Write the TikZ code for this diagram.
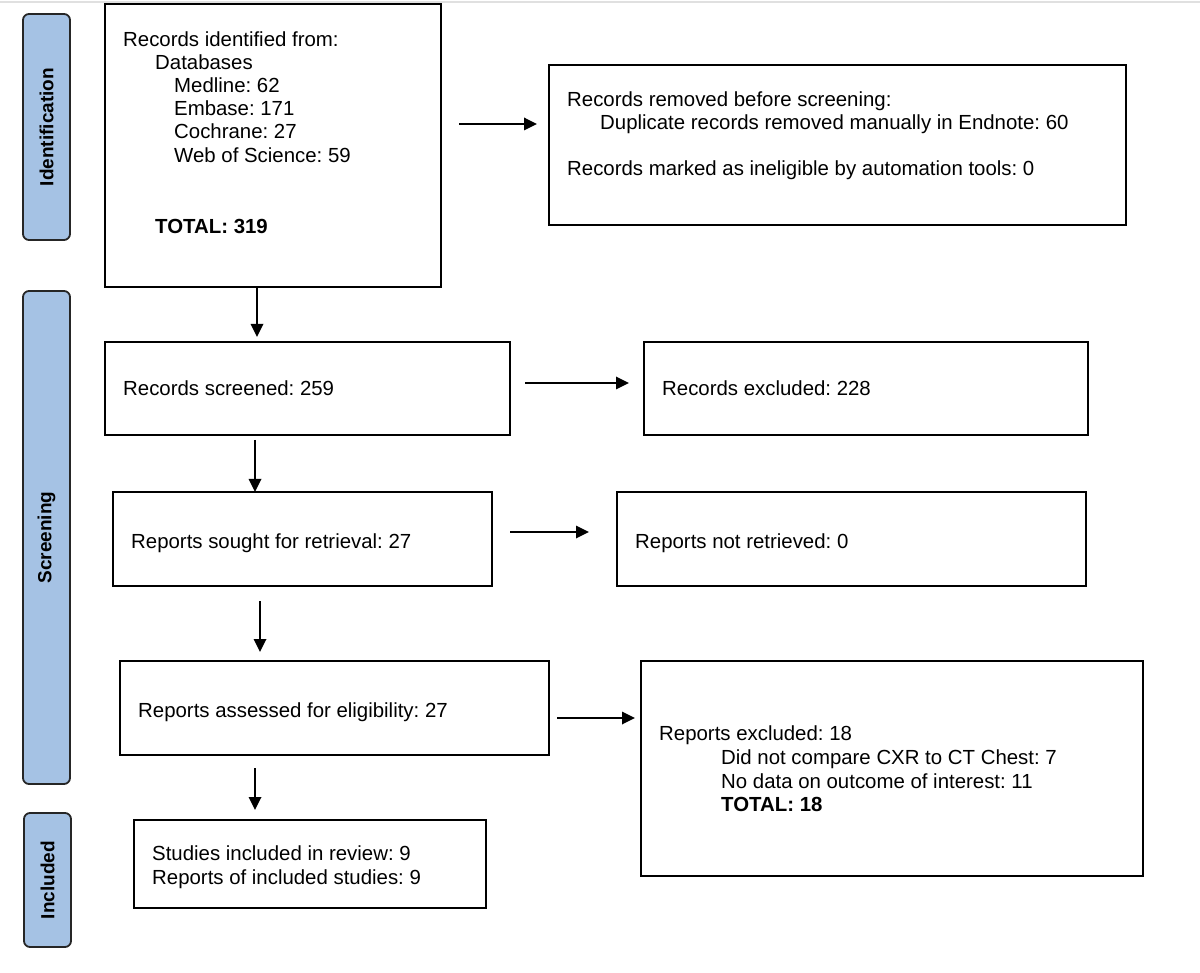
\documentclass[tikz,border=0pt]{standalone}
\usepackage{fontspec}
\setmainfont{Liberation Sans}
\usetikzlibrary{arrows.meta}
\definecolor{phase}{RGB}{165,194,228}
\frenchspacing
\begin{document}
\begin{tikzpicture}[x=1pt,y=-1pt,
  box/.style={draw=black,line width=1.8pt,inner sep=0pt,fill=white},
  phasebox/.style={draw=black!85,line width=1.8pt,rounded corners=6pt,fill=phase,inner sep=0pt},
  phasetext/.style={font=\fontsize{19}{22}\selectfont\bfseries,rotate=90,inner sep=0pt},
  txt/.style={anchor=base west,inner sep=0pt,font=\fontsize{20.4}{24}\selectfont},
  btxt/.style={txt,font=\fontsize{20.4}{24}\selectfont\bfseries},
  arr/.style={line width=1.8pt,-{Triangle[length=13pt,width=12.5pt]}}]
\useasboundingbox (0,0) rectangle (1200,973);
\draw[black!12,line width=1.2pt] (0,2) -- (1200,2);
% phase labels
\node[phasebox,minimum width=47pt,minimum height=226pt] (L1) at (46.5,127) {};
\node[phasetext] (L1t) at (L1.center) {Identification};
\node[phasebox,minimum width=47pt,minimum height=493pt] (L2) at (46.5,537.5) {};
\node[phasetext] (L2t) at (L2.center) {Screening};
\node[phasebox,minimum width=47pt,minimum height=134pt] (L3) at (47.5,880) {};
\node[phasetext] (L3t) at (L3.center) {Included};
% boxes
\node[box,minimum width=336pt,minimum height=283pt] (b1) at (273,145.5) {};
\node[box,minimum width=577pt,minimum height=160pt] (b2) at (837.5,145) {};
\node[box,minimum width=405pt,minimum height=93pt] (b3) at (307.5,388.5) {};
\node[box,minimum width=444pt,minimum height=93pt] (b4) at (866,388.5) {};
\node[box,minimum width=379pt,minimum height=94pt] (b5) at (302.5,539) {};
\node[box,minimum width=469pt,minimum height=94pt] (b6) at (851.5,539) {};
\node[box,minimum width=429pt,minimum height=94pt] (b7) at (334.5,708) {};
\node[box,minimum width=502pt,minimum height=215pt] (b8) at (892,768.5) {};
\node[box,minimum width=352pt,minimum height=88pt] (b9) at (310,864) {};
% texts box 1
\node[txt] (t1a) at (123,47) {Records identified from:};
\node[txt] (t1b) at (155,70) {Databases};
\node[txt] (t1c) at (174,93) {Medline: 62};
\node[txt] (t1d) at (174,116) {Embase: 171};
\node[txt] (t1e) at (174,139) {Cochrane: 27};
\node[txt] (t1f) at (174,163) {Web of Science: 59};
\node[btxt] (t1g) at (155,234) {TOTAL: 319};
% box 2
\node[txt] (t2a) at (567,107) {Records removed before screening:};
\node[txt] (t2b) at (600,130) {Duplicate records removed manually in Endnote: 60};
\node[txt] (t2c) at (567,176) {Records marked as ineligible by automation tools: 0};
% others
\node[txt] (t3) at (123,396) {Records screened: 259};
\node[txt] (t4) at (662,396) {Records excluded: 228};
\node[txt] (t5) at (131,548) {Reports sought for retrieval: 27};
\node[txt] (t6) at (635,548) {Reports not retrieved: 0};
\node[txt] (t7) at (138,717) {Reports assessed for eligibility: 27};
\node[txt] (t8a) at (659,740) {Reports excluded: 18};
\node[txt] (t8b) at (721,764) {Did not compare CXR to CT Chest: 7};
\node[txt] (t8c) at (721,788) {No data on outcome of interest: 11};
\node[btxt] (t8d) at (721,811) {TOTAL: 18};
\node[txt] (t9a) at (152,860) {Studies included in review: 9};
\node[txt] (t9b) at (152,884) {Reports of included studies: 9};
% arrow end points
\coordinate (a1s) at (459,124); \coordinate (a1e) at (537,124);
\coordinate (a2s) at (257,287); \coordinate (a2e) at (257,337);
\coordinate (a3s) at (525,383); \coordinate (a3e) at (629,383);
\coordinate (a4s) at (255,440); \coordinate (a4e) at (255,492);
\coordinate (a5s) at (510,532); \coordinate (a5e) at (589,532);
\coordinate (a6s) at (260,601); \coordinate (a6e) at (260,652);
\coordinate (a7s) at (557,718); \coordinate (a7e) at (635,718);
\coordinate (a8s) at (255,768); \coordinate (a8e) at (255,810);
\draw[arr] (a1s) -- (a1e);
\draw[arr] (a2s) -- (a2e);
\draw[arr] (a3s) -- (a3e);
\draw[arr] (a4s) -- (a4e);
\draw[arr] (a5s) -- (a5e);
\draw[arr] (a6s) -- (a6e);
\draw[arr] (a7s) -- (a7e);
\draw[arr] (a8s) -- (a8e);
\end{tikzpicture}
\end{document}
